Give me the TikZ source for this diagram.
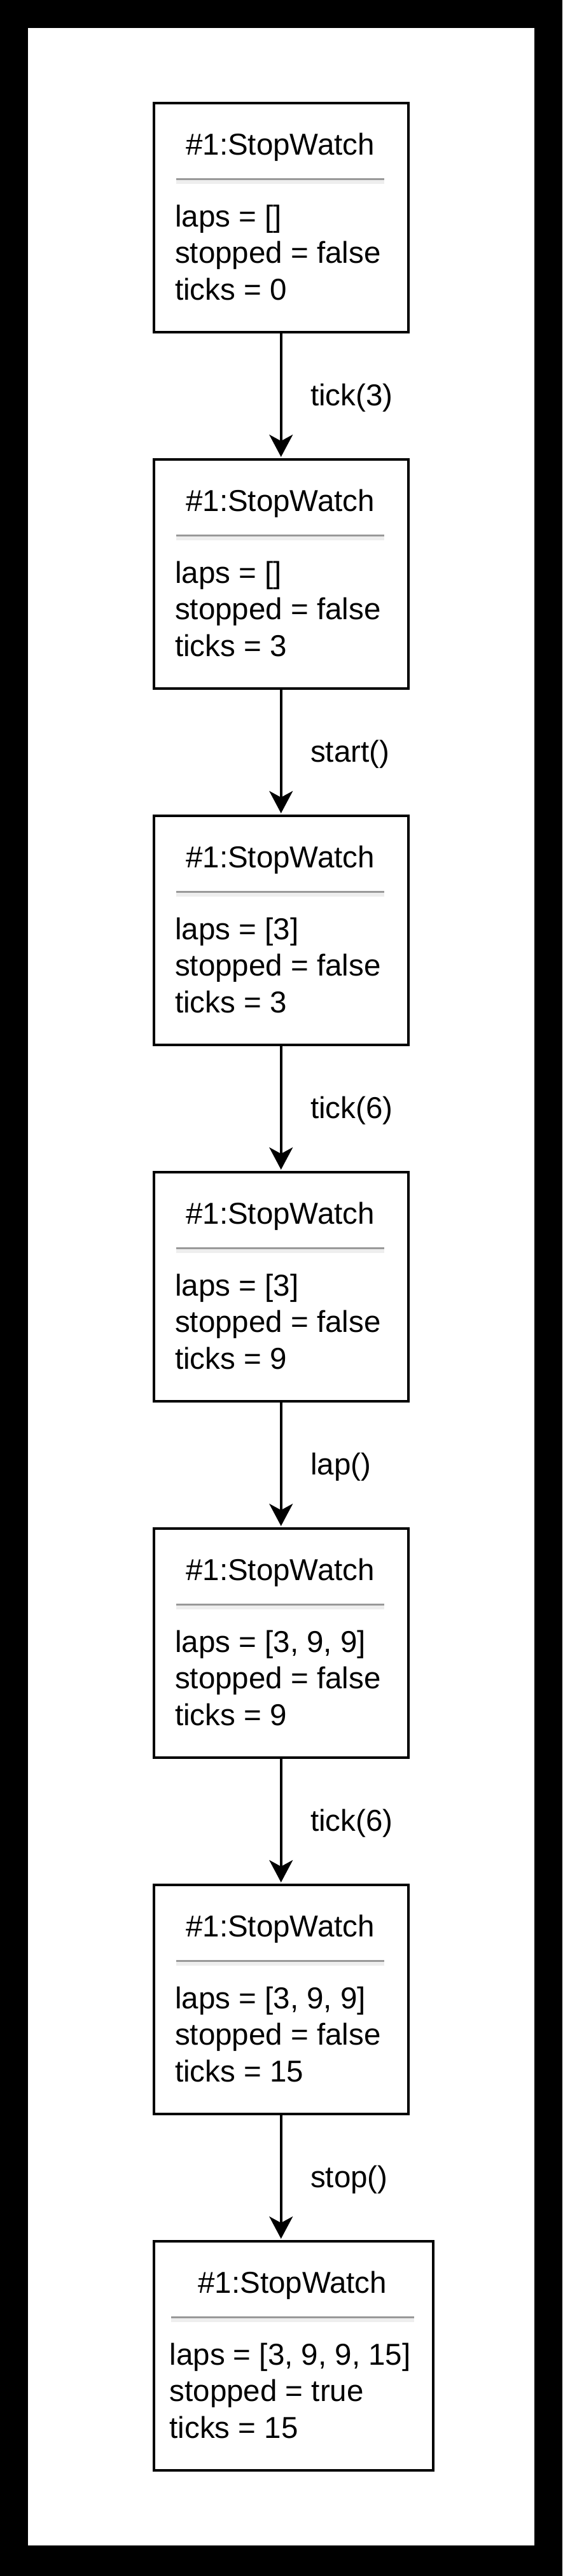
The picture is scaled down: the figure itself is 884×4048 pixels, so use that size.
\documentclass[tikz,border=0pt]{standalone}
\usepackage{fontspec}
\setmainfont{Liberation Sans}
\usetikzlibrary{arrows.meta}
\definecolor{sepdark}{HTML}{999999}
\definecolor{seplight}{HTML}{EEEEEE}
\newcommand{\swobj}[9]{%
  \node[objbox, minimum width=#4pt] (#1) at (#3, #2+180) {};
  \fill[sepdark] (#5, #2+118) rectangle (#6, #2+121.3);
  \fill[seplight] (#5, #2+121.3) rectangle (#6, #2+126.7);
  \node[txt, anchor=base] (#1t) at ({(#5+#6)/2}, #2+81) {\#1:StopWatch};
  \node[txt, anchor=base west] (#1a) at (#5-2, #2+194) {laps = #7};
  \node[txt, anchor=base west] (#1b) at (#5-2, #2+251.5) {stopped = #8};
  \node[txt, anchor=base west] (#1c) at (#5-2, #2+309) {ticks = #9};
}
\begin{document}
\begin{tikzpicture}[x=1pt, y=-1pt,
  objbox/.style={draw, line width=4pt, minimum height=360pt, inner sep=0pt},
  txt/.style={inner sep=0pt, font=\fontsize{47.5pt}{57pt}\selectfont},
  conn/.style={line width=3.5pt, -{Stealth[length=35pt, width=37pt, inset=10pt]}, shorten >=2pt},
  lbl/.style={txt, anchor=base west}]
\useasboundingbox (0,0) rectangle (884,4048);
\fill[black] (0,0) rectangle (884,4048);
\fill[white] (44,44) rectangle (840,4000);
\swobj{b1}{162}{441.75}{399.5}{277}{604}{[]}{false}{0}
\swobj{b2}{722}{441.75}{399.5}{277}{604}{[]}{false}{3}
\swobj{b3}{1282}{441.75}{399.5}{277}{604}{[3]}{false}{3}
\swobj{b4}{1842}{441.75}{399.5}{277}{604}{[3]}{false}{9}
\swobj{b5}{2402}{441.75}{399.5}{277}{604}{[3, 9, 9]}{false}{9}
\swobj{b6}{2962}{441.75}{399.5}{277}{604}{[3, 9, 9]}{false}{15}
\swobj{b7}{3522}{461.5}{439}{268.5}{651}{[3, 9, 9, 15]}{true}{15}
\draw[conn] (b1.south) -- (b1.south |- b2.north);
\draw[conn] (b2.south) -- (b2.south |- b3.north);
\draw[conn] (b3.south) -- (b3.south |- b4.north);
\draw[conn] (b4.south) -- (b4.south |- b5.north);
\draw[conn] (b5.south) -- (b5.south |- b6.north);
\draw[conn] (b6.south) -- (b6.south |- b7.north);
\node[lbl] (l1) at (488, 637) {tick(3)};
\node[lbl] (l2) at (488, 1197) {start()};
\node[lbl] (l3) at (488, 1757) {tick(6)};
\node[lbl] (l4) at (488, 2317) {lap()};
\node[lbl] (l5) at (488, 2877) {tick(6)};
\node[lbl] (l6) at (488, 3437) {stop()};
\end{tikzpicture}
\end{document}
